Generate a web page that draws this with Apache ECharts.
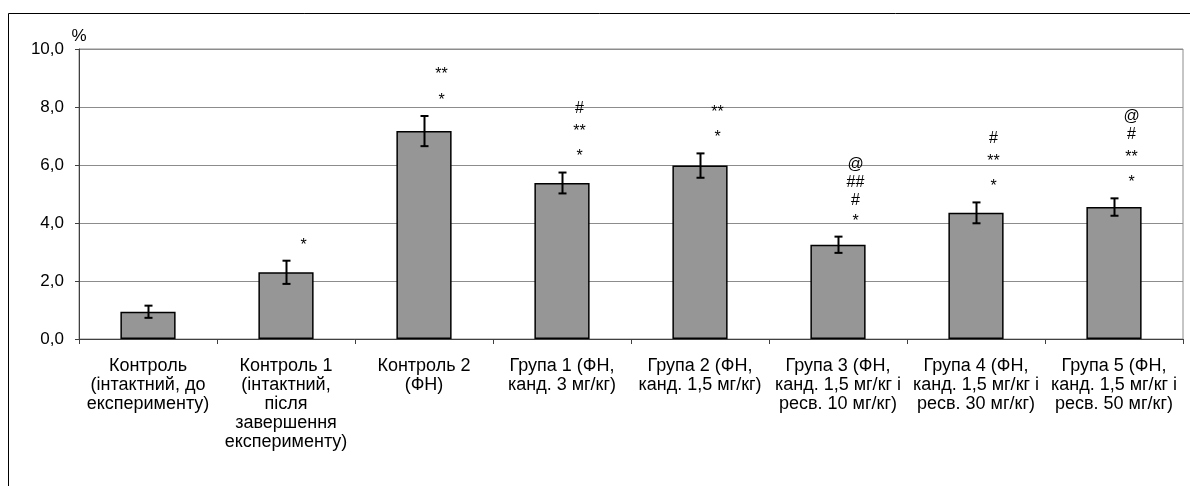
<!DOCTYPE html>
<html>
<head>
<meta charset="utf-8">
<script src="https://cdn.jsdelivr.net/npm/echarts@6/dist/echarts.min.js"></script>
<style>
html,body{margin:0;padding:0;background:#fff;}
#chart{width:1190px;height:486px;}
</style>
</head>
<body>
<div id="chart"></div>
<script>
const categories = [
  "Контроль\n(інтактний, до\nексперименту)",
  "Контроль 1\n(інтактний,\nпісля\nзавершення\nексперименту)",
  "Контроль 2\n(ФН)",
  "Група 1 (ФН,\nканд. 3 мг/кг)",
  "Група 2 (ФН,\nканд. 1,5 мг/кг)",
  "Група 3 (ФН,\nканд. 1,5 мг/кг і\nресв. 10 мг/кг)",
  "Група 4 (ФН,\nканд. 1,5 мг/кг і\nресв. 30 мг/кг)",
  "Група 5 (ФН,\nканд. 1,5 мг/кг і\nресв. 50 мг/кг)"
];
const values = [0.94, 2.30, 7.17, 5.38, 5.98, 3.25, 4.35, 4.55];
const errors = [0.21, 0.40, 0.52, 0.36, 0.42, 0.28, 0.36, 0.30];
const marks = [
  [],
  ["*"],
  ["**", "*"],
  ["#", "**", "*"],
  ["**", "*"],
  ["@", "##", "#", "*"],
  ["#", "**", "*"],
  ["@", "#", "**", "*"]
];
const yTicks = { min: 0, max: 10, interval: 2 };

const FONT = '"Liberation Sans", Arial, sans-serif';
const chart = echarts.init(document.getElementById('chart'), null, { renderer: 'canvas' });

function cls(l) {
  if (l === '*') return 's1';
  if (l === '**') return 's2';
  return 'o';
}

const option = {
  animation: false,
  backgroundColor: '#fff',
  graphic: [{
    type: 'rect',
    z: -10,
    shape: { x: 8.5, y: 13.5, width: 1200, height: 500 },
    style: { fill: 'none', stroke: '#000', lineWidth: 1 }
  }],
  grid: {
    left: 79, right: 7, top: 49, bottom: 147,
    show: true, borderColor: '#8c8c8c', borderWidth: 1, backgroundColor: 'transparent'
  },
  xAxis: {
    type: 'category',
    data: categories,
    axisLine: { lineStyle: { color: '#404040', width: 1 } },
    axisTick: { show: true, length: 5, lineStyle: { color: '#404040' } },
    axisLabel: {
      interval: 0, margin: 18, color: '#000',
      fontFamily: FONT, fontSize: 18, lineHeight: 19, align: 'center'
    },
    splitLine: { show: false }
  },
  yAxis: {
    type: 'value',
    min: yTicks.min, max: yTicks.max, interval: yTicks.interval,
    name: '%',
    nameLocation: 'end',
    nameGap: 4,
    nameTextStyle: { color: '#000', fontFamily: FONT, fontSize: 17, align: 'center' },
    axisLine: { show: true, lineStyle: { color: '#404040', width: 1 } },
    axisTick: { show: true, length: 4, lineStyle: { color: '#404040' } },
    axisLabel: {
      margin: 15, color: '#000', fontFamily: FONT, fontSize: 17,
      formatter: v => v.toFixed(1).replace('.', ',')
    },
    splitLine: { show: true, lineStyle: { color: '#8c8c8c', width: 1 } }
  },
  series: [
    {
      type: 'bar',
      data: values,
      barWidth: '40%',
      itemStyle: { color: '#969696', borderColor: '#000', borderWidth: 1.5 },
      z: 2
    },
    {
      type: 'custom',
      z: 3,
      data: values.map((v, i) => [i, v, errors[i]]),
      encode: { x: 0, y: 1 },
      renderItem: function (params, api) {
        const i = api.value(0), v = api.value(1), e = api.value(2);
        const top = api.coord([i, v + e]);
        const bot = api.coord([i, v - e]);
        const x = Math.round(top[0]) + 0.5;
        const cap = 4;
        const ls = { stroke: '#000', lineWidth: 2 };
        const children = [
          { type: 'line', shape: { x1: x, y1: top[1], x2: x, y2: bot[1] }, style: ls },
          { type: 'line', shape: { x1: x - cap, y1: top[1], x2: x + cap, y2: top[1] }, style: ls },
          { type: 'line', shape: { x1: x - cap, y1: bot[1], x2: x + cap, y2: bot[1] }, style: ls }
        ];
        const lines = marks[params.dataIndex];
        if (lines.length) {
          children.push({
            type: 'text',
            x: x + 17,
            y: top[1] - 4,
            style: {
              text: lines.map(l => '{' + cls(l) + '|' + l + '}').join('\n'),
              align: 'center',
              verticalAlign: 'bottom',
              fill: '#000',
              font: '16px ' + FONT,
              rich: {
                o: { fontSize: 16, fontFamily: FONT, lineHeight: 18, fill: '#000' },
                s1: { fontSize: 16, fontFamily: FONT, lineHeight: 23, fill: '#000' },
                s2: { fontSize: 16, fontFamily: FONT, lineHeight: 28, fill: '#000' }
              }
            }
          });
        }
        return { type: 'group', children: children };
      }
    }
  ]
};
chart.setOption(option);
</script>
</body>
</html>
